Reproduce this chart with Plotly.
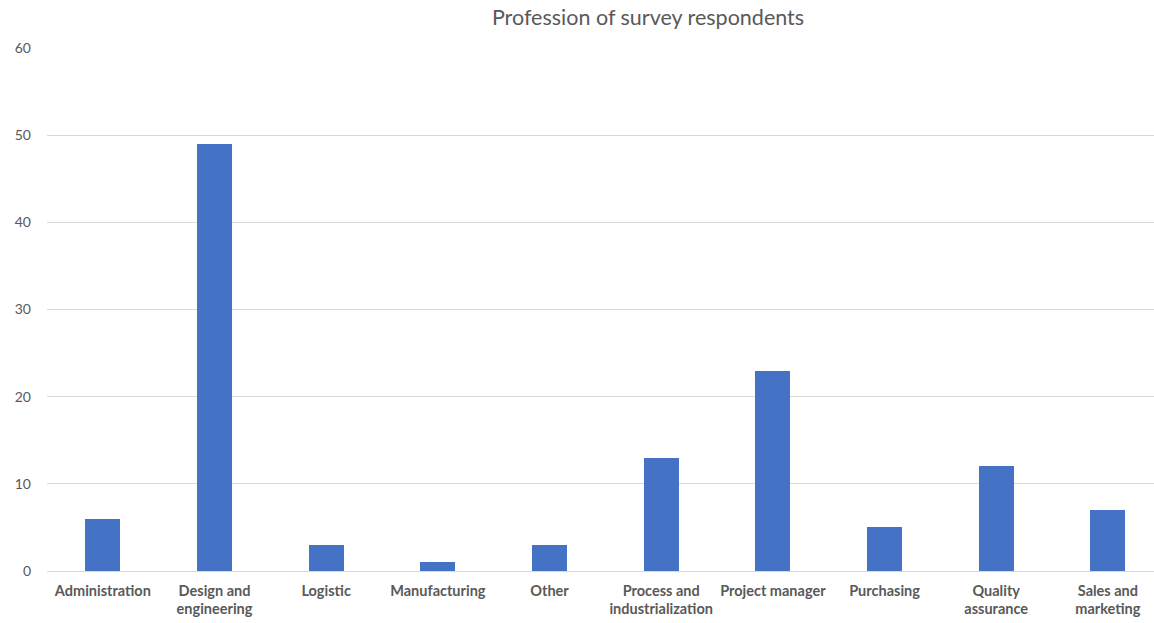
import plotly.graph_objects as go

categories = ["Administration", "Design and<br>engineering", "Logistic", "Manufacturing", "Other",
              "Process and<br>industrialization", "Project manager", "Purchasing",
              "Quality<br>assurance", "Sales and<br>marketing"]
counts = [6, 49, 3, 1, 3, 13, 23, 5, 12, 7]
y_ticks = [0, 10, 20, 30, 40, 50, 60]

fig = go.Figure(go.Bar(
    x=list(range(len(categories))), y=counts,
    marker=dict(color="#4472C4", line=dict(width=0)),
    width=0.313,
))

fig.update_layout(
    width=1154, height=623,
    margin=dict(l=47, r=0, t=48, b=52),
    paper_bgcolor="white", plot_bgcolor="white",
    showlegend=False,
    font=dict(family="Lato, Open Sans, sans-serif", color="#595959"),
    title=dict(text="Profession of survey respondents", x=648/1154, xanchor="center",
               y=1-17/623, yanchor="middle", xref="container", yref="container",
               font=dict(size=21.5, color="#595959", family="Lato, Open Sans, sans-serif")),
    bargap=0,
)
fig.update_xaxes(
    tickmode="array", tickvals=list(range(len(categories))), ticktext=categories,
    range=[-0.5, 9.413], showgrid=False, zeroline=False, showline=False, ticks="",
    tickangle=0,
    tickfont=dict(size=14.5, color="#595959", family="Lato, Open Sans, sans-serif", weight="bold"),
    ticklabelstandoff=9,
)
fig.update_yaxes(
    range=[0, 60], tickvals=y_ticks, showgrid=True, gridcolor="#D9D9D9", gridwidth=1,
    zeroline=True, zerolinecolor="#D9D9D9", zerolinewidth=1, showline=False, ticks="",
    tickfont=dict(size=14, color="#595959", family="Lato, Open Sans, sans-serif"),
    ticklabelstandoff=15,
)

fig.write_html("out.html")
